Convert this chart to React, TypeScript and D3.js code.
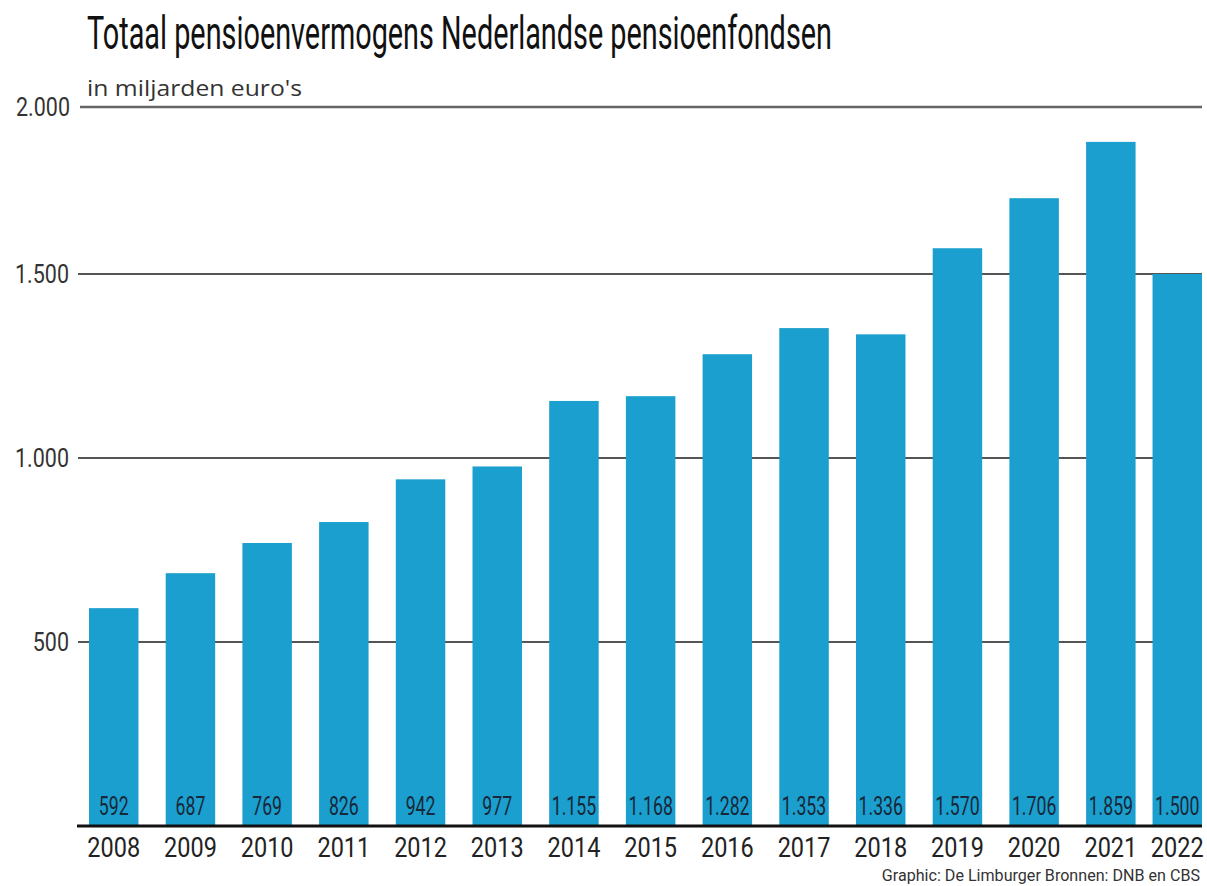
import React, { useLayoutEffect, useRef, useState } from "react";
import * as d3 from "d3";

const years = ["2008","2009","2010","2011","2012","2013","2014","2015","2016","2017","2018","2019","2020","2021","2022"];
const values = [592, 687, 769, 826, 942, 977, 1155, 1168, 1282, 1353, 1336, 1570, 1706, 1859, 1500];
const gridTicks = [500, 1000, 1500];
const topTick = 2000;

const title = "Totaal pensioenvermogens Nederlandse pensioenfondsen";
const subtitle = "in miljarden euro's";
const source = "Graphic: De Limburger Bronnen: DNB en CBS";

const W = 1207;
const H = 886;
const plotLeft = 77;
const plotRight = 1202;
const baseY = 826;
const headerRuleY = 107;

const fmt = (v: number) => d3.format(",")(v).replace(/,/g, ".");

function SText({ x, y, sx, anchor, size, fill, family, weight, children }: any) {
  return (
    <text
      transform={`translate(${x},${y}) scale(${sx},1)`}
      textAnchor={anchor}
      fontSize={size}
      fill={fill}
      fontFamily={family}
      fontWeight={weight}
    >
      {children}
    </text>
  );
}

function FitText({ x, y, width, anchor, size, fill, family, weight, children }: any) {
  const ref = useRef<SVGTextElement>(null);
  const [sx, setSx] = useState(0.6);
  useLayoutEffect(() => {
    const el = ref.current;
    if (el) {
      const w = el.getComputedTextLength();
      if (w > 0) setSx(width / w);
    }
  }, [width, size, family]);
  return (
    <text
      ref={ref}
      transform={`translate(${x},${y}) scale(${sx},1)`}
      textAnchor={anchor || "start"}
      fontSize={size}
      fill={fill}
      fontFamily={family}
      fontWeight={weight}
    >
      {children}
    </text>
  );
}

export default function App() {
  const y = d3.scaleLinear().domain([0, 2000]).range([baseY, 90]);
  const step = 76.7;
  const pInner = 0.355;
  const x = d3
    .scaleBand<string>()
    .domain(years)
    .range([89, 89 + step * (years.length - pInner)])
    .paddingInner(pInner)
    .paddingOuter(0);
  const bw = x.bandwidth();
  const barX = (yr: string) => Math.min(x(yr) as number, plotRight - bw);

  return (
    <svg width={W} height={H} style={{ position: "absolute", left: 0, top: 0, background: "#fff" }}>
      <rect x={0} y={0} width={W} height={H} fill="#fff" />
      {/* Title */}
      <FitText x={87} y={49} width={745} size={46} family="Roboto" weight={400} fill="#111">
        {title}
      </FitText>
      <FitText x={87} y={96} width={215} size={22} family="Open Sans" fill="#333">
        {subtitle}
      </FitText>

      {/* Top rule with 2.000 label */}
      <line x1={80} x2={plotRight} y1={headerRuleY} y2={headerRuleY} stroke="#666" strokeWidth={2.5} />
      <SText x={70} y={headerRuleY + 9} sx={0.86} anchor="end" size={25} fill="#333" family="Roboto">
        {fmt(topTick)}
      </SText>

      {/* Gridlines */}
      {gridTicks.map((t) => (
        <g key={t}>
          <line x1={78} x2={plotRight} y1={y(t)} y2={y(t)} stroke="#555" strokeWidth={2} />
          <SText x={69} y={y(t) + 9} sx={0.86} anchor="end" size={25} fill="#333" family="Roboto">
            {fmt(t)}
          </SText>
        </g>
      ))}

      {/* Bars */}
      {years.map((yr, i) => (
        <rect key={yr} x={barX(yr)} y={y(values[i])} width={bw} height={baseY - y(values[i])} fill="#1a9fce" />
      ))}

      {/* Value labels */}
      {years.map((yr, i) => (
        <SText key={yr} x={barX(yr) + bw / 2} y={815} sx={0.68} anchor="middle" size={26} fill="#182739" family="Roboto">
          {fmt(values[i])}
        </SText>
      ))}

      {/* Baseline */}
      <line x1={plotLeft} x2={plotRight} y1={baseY} y2={baseY} stroke="#111" strokeWidth={3} />

      {/* Year labels */}
      {years.map((yr) => (
        <SText key={yr} x={barX(yr) + bw / 2} y={857} sx={0.87} anchor="middle" size={27} fill="#222" family="Roboto">
          {yr}
        </SText>
      ))}

      {/* Source */}
      <FitText x={1200} y={881} width={318} anchor="end" size={17} family="Roboto" fill="#333">
        {source}
      </FitText>
    </svg>
  );
}
